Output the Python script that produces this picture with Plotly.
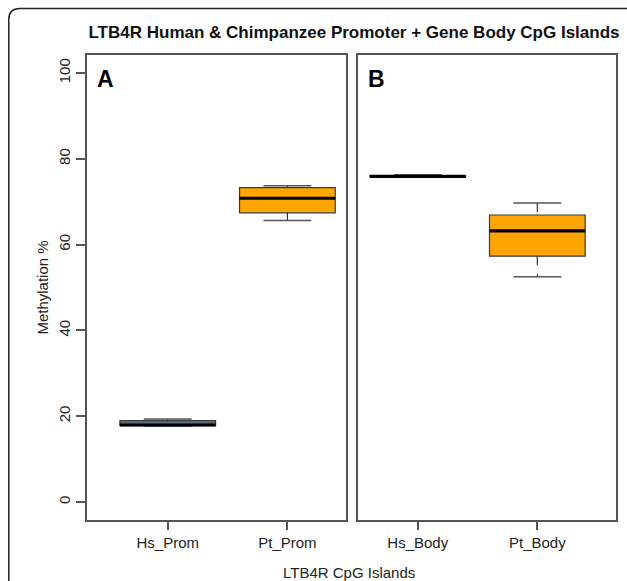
import plotly.graph_objects as go

# ---- data ----
categories_A = ["Hs_Prom", "Pt_Prom"]
categories_B = ["Hs_Body", "Pt_Body"]
lower_A = [17.7, 65.6]
q1_A = [17.8, 67.4]
median_A = [17.95, 70.8]
q3_A = [19.0, 73.3]
upper_A = [19.35, 73.7]
lower_B = [75.7, 52.5]
q1_B = [75.8, 57.3]
median_B = [75.9, 63.2]
q3_B = [76.1, 66.9]
upper_B = [76.3, 69.7]
fill_colors = ["#5c6774", "#ffa500"]
y_ticks = [0, 20, 40, 60, 80, 100]

W, H = 627, 581
ML, MR, MT, MB = 87, 9, 55, 61
PW, PH = W - ML - MR, H - MT - MB

fig = go.Figure()

BOXW = 0.8


def add_panel(cats, lo, q1, med, q3, hi, xa, ya):
    pos = list(range(1, len(cats) + 1))
    for i, p in enumerate(pos):
        fig.add_trace(go.Box(
            x=[p], q1=[q1[i]], median=[med[i]], q3=[q3[i]],
            lowerfence=[q1[i]], upperfence=[q3[i]],
            width=BOXW, fillcolor=fill_colors[i],
            line=dict(color="#3a3a3a", width=1.2),
            boxpoints=False, showlegend=False, hoverinfo="skip",
            xaxis=xa, yaxis=ya))
    wx, wy, cx, cy, mx, my = [], [], [], [], [], []
    for i, p in enumerate(pos):
        wx += [p, p, None, p, p, None]
        wy += [hi[i], q3[i], None, q1[i], lo[i], None]
        cx += [p - BOXW / 4, p + BOXW / 4, None, p - BOXW / 4, p + BOXW / 4, None]
        cy += [hi[i], hi[i], None, lo[i], lo[i], None]
        mx += [p - BOXW / 2, p + BOXW / 2, None]
        my += [med[i], med[i], None]
    fig.add_trace(go.Scatter(x=wx, y=wy, mode="lines",
                             line=dict(color="#333333", width=1.2, dash="dash"),
                             showlegend=False, hoverinfo="skip", xaxis=xa, yaxis=ya))
    fig.add_trace(go.Scatter(x=cx, y=cy, mode="lines",
                             line=dict(color="#555555", width=1.5),
                             showlegend=False, hoverinfo="skip", xaxis=xa, yaxis=ya))
    fig.add_trace(go.Scatter(x=mx, y=my, mode="lines",
                             line=dict(color="#000000", width=3.2),
                             showlegend=False, hoverinfo="skip", xaxis=xa, yaxis=ya))


add_panel(categories_A, lower_A, q1_A, median_A, q3_A, upper_A, "x", "y")
add_panel(categories_B, lower_B, q1_B, median_B, q3_B, upper_B, "x2", "y2")

frame = dict(showline=True, linecolor="#555555", linewidth=1.5, mirror=True,
             showgrid=False, zeroline=False)
font_family = "Liberation Sans, Arial, sans-serif"

dA = [0, (347 - ML) / PW]
dB = [(359 - ML) / PW, 1]

fig.update_layout(
    width=W, height=H,
    margin=dict(l=ML, r=MR, t=MT, b=MB),
    paper_bgcolor="white", plot_bgcolor="white",
    font=dict(family=font_family, color="#222222", size=15),
    xaxis=dict(domain=dA, range=[0.325, 2.49], tickmode="array",
               tickvals=[1, 2], ticktext=categories_A, ticks="outside",
               ticklen=8, tickcolor="#555555", tickwidth=1.5, **frame),
    yaxis=dict(domain=[0, 1], range=[-4.2, 104.2], tickmode="array",
               tickvals=y_ticks, ticks="outside", ticklen=9, tickcolor="#555555",
               tickwidth=1.5, tickangle=-90,
               title=dict(text="Methylation %", font=dict(size=15), standoff=4),
               **frame),
    xaxis2=dict(domain=dB, range=[0.5, 2.658], tickmode="array",
                tickvals=[1, 2], ticktext=categories_B, ticks="outside",
                ticklen=8, tickcolor="#555555", tickwidth=1.5, anchor="y2", **frame),
    yaxis2=dict(domain=[0, 1], range=[-4.2, 104.2], anchor="x2",
                showticklabels=False, ticks="", **frame),
    title=dict(text="<b>LTB4R Human & Chimpanzee Promoter + Gene Body CpG Islands</b>",
               x=(354 / W), xanchor="center", y=1 - 32 / H, yanchor="middle",
               font=dict(size=17, color="#111111")),
)

fig.add_annotation(text="<b>A</b>", xref="x domain", yref="y domain",
                   x=0.03, y=0.98, xanchor="left", yanchor="top", showarrow=False,
                   font=dict(size=23, color="black"))
fig.add_annotation(text="<b>B</b>", xref="x2 domain", yref="y2 domain",
                   x=0.03, y=0.98, xanchor="left", yanchor="top", showarrow=False,
                   font=dict(size=23, color="black"))
fig.add_annotation(text="LTB4R CpG Islands", xref="paper", yref="paper",
                   x=(350 - ML) / PW, y=-(572 - (MT + PH)) / PH, xanchor="center",
                   yanchor="middle", showarrow=False, font=dict(size=15))

# outer rounded border
def px(x):
    return (x - ML) / PW


def py(y):
    return (MT + PH - y) / PH


x0, y0, r = 8.5, 8.5, 11
path = (f"M {px(x0)},{py(H + 10)} L {px(x0)},{py(y0 + r)} "
        f"Q {px(x0)},{py(y0)} {px(x0 + r)},{py(y0)} L {px(W + 10)},{py(y0)}")
fig.add_shape(type="path", path=path, xref="paper", yref="paper",
              line=dict(color="#222222", width=1.5))

fig.write_html("out.html")
